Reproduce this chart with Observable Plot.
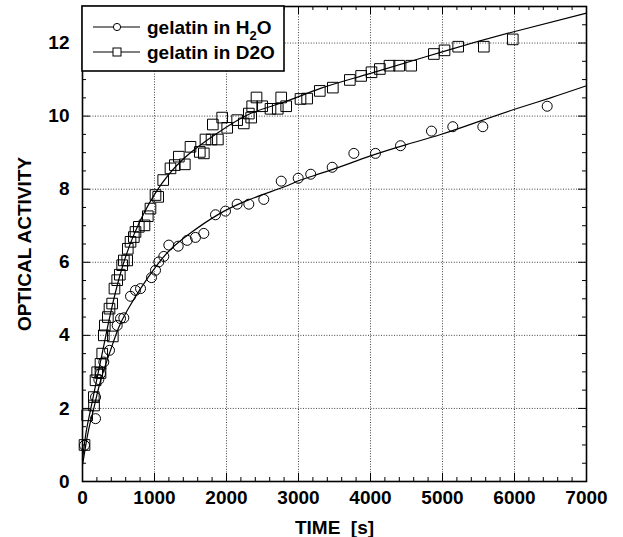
<!DOCTYPE html>
<html>
<head>
<meta charset="utf-8">
<script src="https://cdn.jsdelivr.net/npm/d3@7"></script>
<script src="https://cdn.jsdelivr.net/npm/@observablehq/plot@0.6"></script>
<style>
  html, body { margin: 0; padding: 0; background: white; }
  #chart { width: 623px; height: 537px; }
</style>
</head>
<body>
<div id="chart"></div>
<script>
// ---- data ----
// gelatin in H2O (circles): time [s], optical activity
const h2oTime = [28, 181, 181, 227, 250, 296, 375, 482, 528, 574, 667, 736, 806, 958, 1014, 1060, 1129, 1199, 1329, 1454, 1569, 1685, 1847, 1986, 2148, 2310, 2518, 2760, 2996, 3170, 3468, 3769, 4069, 4417, 4847, 5143, 5560, 6454];
const h2oValue = [0.99, 1.72, 2.31, 2.79, 2.95, 3.27, 3.59, 4.27, 4.46, 4.48, 5.07, 5.23, 5.28, 5.58, 5.78, 6.01, 6.16, 6.47, 6.44, 6.60, 6.68, 6.79, 7.30, 7.40, 7.59, 7.59, 7.72, 8.22, 8.30, 8.41, 8.60, 8.98, 8.98, 9.19, 9.59, 9.71, 9.71, 10.27];

// gelatin in D2O (squares)
const d2oTime = [28, 65, 160, 157, 181, 204, 250, 250, 274, 296, 421, 310, 352, 375, 412, 444, 482, 518, 551, 574, 621, 629, 667, 713, 736, 782, 861, 907, 944, 1014, 1051, 1121, 1222, 1282, 1338, 1421, 1500, 1629, 1685, 1708, 1792, 1880, 1810, 1940, 2010, 2148, 2240, 2310, 2343, 2357, 2417, 2496, 2611, 2712, 2760, 2829, 3028, 3120, 3296, 3477, 3713, 3870, 4014, 4130, 4264, 4398, 4565, 4880, 5028, 5218, 5574, 5976];
const d2oValue = [1.00, 1.81, 2.08, 2.31, 2.77, 2.99, 2.97, 3.22, 3.50, 4.00, 3.97, 4.27, 4.50, 4.73, 4.87, 5.28, 5.51, 5.66, 5.92, 6.05, 6.05, 6.37, 6.56, 6.69, 6.83, 6.97, 7.01, 7.26, 7.47, 7.84, 7.79, 8.25, 8.57, 8.66, 8.89, 8.68, 9.16, 9.02, 8.98, 9.36, 9.36, 9.36, 9.77, 9.96, 9.68, 9.89, 9.80, 10.07, 9.96, 10.27, 10.51, 10.27, 10.20, 10.20, 10.51, 10.27, 10.47, 10.48, 10.69, 10.78, 10.99, 11.10, 11.20, 11.29, 11.38, 11.38, 11.38, 11.70, 11.80, 11.90, 11.90, 12.10];

// fitted curves
const h2oFitTime = [0, 50, 100, 157, 250, 389, 500, 621, 806, 1014, 1222, 1500, 1870, 2300, 2796, 3028, 3444, 4000, 4500, 4996, 5500, 5990, 6500, 7000];
const h2oFitValue = [0.45, 1.05, 1.55, 2.00, 2.75, 3.59, 4.20, 4.68, 5.28, 5.87, 6.35, 6.80, 7.29, 7.70, 8.06, 8.25, 8.52, 8.91, 9.22, 9.51, 9.85, 10.18, 10.50, 10.83];
const d2oFitTime = [0, 50, 100, 157, 273, 389, 528, 713, 1014, 1407, 1870, 2333, 2796, 3306, 4000, 4996, 5990, 7000];
const d2oFitValue = [0.60, 1.35, 1.85, 2.40, 3.50, 4.60, 5.70, 6.75, 7.90, 8.84, 9.53, 10.07, 10.38, 10.76, 11.17, 11.76, 12.31, 12.82];

// axes
const xTicks = [0, 1000, 2000, 3000, 4000, 5000, 6000, 7000];
const yTicks = [0, 2, 4, 6, 8, 10, 12];
const xGridLines = [1000, 2000, 3000, 4000, 5000, 6000];
const yGridLines = [2, 4, 6, 8, 10, 12];
const xLabel = "TIME\u00a0\u00a0[s]";
const yLabel = "OPTICAL ACTIVITY";
const seriesNames = ["gelatin in H", "2", "O", "gelatin in D2O"];

// ---- build tables ----
const h2o = h2oTime.map((t, i) => ({t, v: h2oValue[i]}));
const d2o = d2oTime.map((t, i) => ({t, v: d2oValue[i]}));
const h2oFit = h2oFitTime.map((t, i) => ({t, v: h2oFitValue[i]}));
const d2oFit = d2oFitTime.map((t, i) => ({t, v: d2oFitValue[i]}));
const xMinor = d3.range(200, 7000, 200).filter(d => d % 1000 !== 0);
const yMinor = d3.range(0.5, 13, 0.5).filter(d => d % 2 !== 0);

const W = 623, H = 537, mL = 82, mR = 37, mT = 6, mB = 56;
const pw = W - mL - mR, ph = H - mT - mB;
const FONT = "'Liberation Sans', Arial, Helvetica, sans-serif";
const minorLen = 4, majorLen = 8;

const plot = Plot.plot({
  width: W, height: H,
  marginLeft: mL, marginRight: mR, marginTop: mT, marginBottom: mB,
  style: {fontFamily: FONT, fontSize: "19px", fontWeight: "bold", background: "white", color: "black"},
  x: {domain: [0, 7000]},
  y: {domain: [0, 13]},
  marks: [
    Plot.gridX(xGridLines, {stroke: "#222", strokeOpacity: 0.85, strokeDasharray: "1,1.6"}),
    Plot.gridY(yGridLines, {stroke: "#222", strokeOpacity: 0.85, strokeDasharray: "1,1.6"}),
    // inward tick marks, bottom & top
    Plot.tickX(xMinor, {x: d => d, insetTop: ph - minorLen, stroke: "black"}),
    Plot.tickX(xMinor, {x: d => d, insetBottom: ph - minorLen, stroke: "black"}),
    Plot.tickX(xTicks, {x: d => d, insetTop: ph - majorLen, stroke: "black"}),
    Plot.tickX(xTicks, {x: d => d, insetBottom: ph - majorLen, stroke: "black"}),
    // inward tick marks, left & right
    Plot.tickY(yMinor, {y: d => d, insetRight: pw - minorLen, stroke: "black"}),
    Plot.tickY(yMinor, {y: d => d, insetLeft: pw - minorLen, stroke: "black"}),
    Plot.tickY(yTicks, {y: d => d, insetRight: pw - majorLen, stroke: "black"}),
    Plot.tickY(yTicks, {y: d => d, insetLeft: pw - majorLen, stroke: "black"}),
    Plot.frame({stroke: "black", strokeWidth: 1.6}),
    Plot.axisX(xTicks, {tickSize: 0, tickPadding: 9, tickFormat: "d", fontSize: 19, fontWeight: "bold",
      label: xLabel, labelAnchor: "center", labelOffset: 52, labelArrow: "none"}),
    Plot.axisY(yTicks, {tickSize: 0, tickPadding: 13, tickFormat: "d", fontSize: 19, fontWeight: "bold",
      label: yLabel, labelAnchor: "center", labelOffset: 65, labelArrow: "none"}),
    Plot.line(h2oFit, {x: "t", y: "v", curve: "natural", stroke: "black", strokeWidth: 1.2}),
    Plot.line(d2oFit, {x: "t", y: "v", curve: "natural", stroke: "black", strokeWidth: 1.2}),
    Plot.dot(h2o, {x: "t", y: "v", r: 5, symbol: "circle", stroke: "black", fill: "none", strokeWidth: 1}),
    Plot.dot(d2o, {x: "t", y: "v", r: 6, symbol: "square", stroke: "black", fill: "none", strokeWidth: 1})
  ]
});
document.getElementById("chart").appendChild(plot);

// ---- legend box, top-left inside the frame ----
const svg = d3.select(plot);
const lg = svg.append("g")
  .attr("font-family", FONT).attr("font-weight", "bold").attr("font-size", 19)
  .attr("text-anchor", "start").attr("fill", "black");
lg.append("rect").attr("x", mL).attr("y", mT).attr("width", 202).attr("height", 65)
  .attr("fill", "white").attr("stroke", "black").attr("stroke-width", 1.6);
const rows = [27, 52];
rows.forEach((yy, i) => {
  lg.append("line").attr("x1", 93).attr("x2", 140).attr("y1", yy).attr("y2", yy)
    .attr("stroke", "black").attr("stroke-width", 1.2);
  if (i === 0) {
    lg.append("circle").attr("cx", 117).attr("cy", yy).attr("r", 3.6)
      .attr("fill", "white").attr("stroke", "black");
  } else {
    lg.append("rect").attr("x", 113).attr("y", yy - 4).attr("width", 8).attr("height", 8)
      .attr("fill", "white").attr("stroke", "black");
  }
});
const t1 = lg.append("text").attr("x", 147).attr("y", rows[0] + 7);
t1.append("tspan").text(seriesNames[0]);
t1.append("tspan").attr("font-size", 13).attr("dy", 6).text(seriesNames[1]);
t1.append("tspan").attr("dy", -6).text(seriesNames[2]);
lg.append("text").attr("x", 147).attr("y", rows[1] + 7).text(seriesNames[3]);
</script>
</body>
</html>
